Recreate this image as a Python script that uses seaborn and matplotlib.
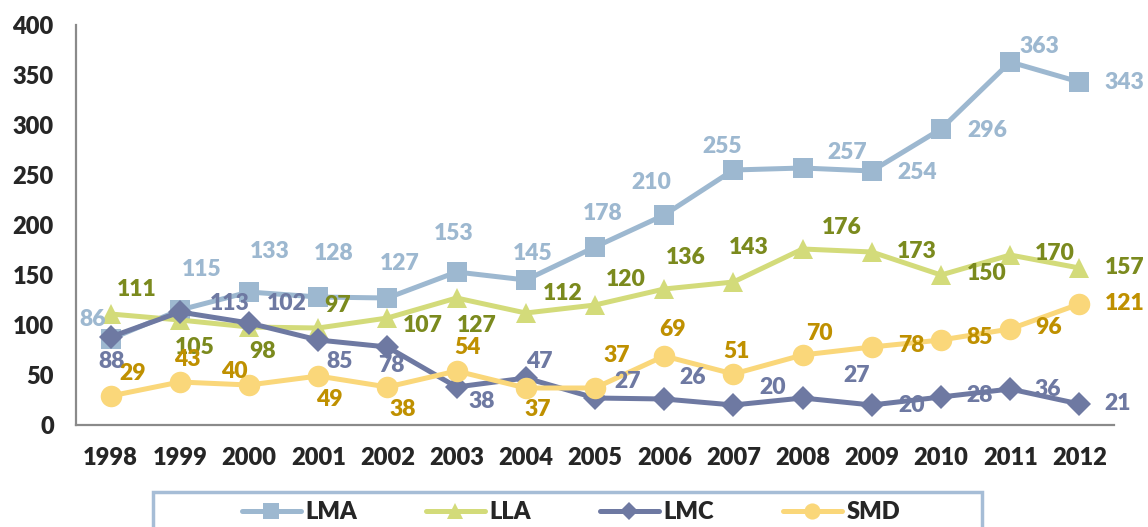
import pandas as pd
import matplotlib.pyplot as plt
import seaborn as sns
from matplotlib.patches import Rectangle

# data
years = [1998, 1999, 2000, 2001, 2002, 2003, 2004, 2005, 2006, 2007, 2008, 2009, 2010, 2011, 2012]
lma = [86, 115, 133, 128, 127, 153, 145, 178, 210, 255, 257, 254, 296, 363, 343]
lla = [111, 105, 98, 97, 107, 127, 112, 120, 136, 143, 176, 173, 150, 170, 157]
lmc = [88, 113, 102, 85, 78, 38, 47, 27, 26, 20, 27, 20, 28, 36, 21]
smd = [29, 43, 40, 49, 38, 54, 37, 37, 69, 51, 70, 78, 85, 96, 121]

# label offsets in pixels (dx, dy), the original has them scattered around
lma_off = [(-18, 20), (22, 40), (21, 40), (16, 44), (12, 35), (-3, 39), (7, 26), (8, 34),
           (-13, 32), (-11, 23), (45, 15), (45, -2), (46, -2), (29, 15), (45, -1)]
lla_off = [(26, 25), (15, -27), (14, -25), (19, 23), (35, -7), (20, -27), (37, 20), (31, 26),
           (22, 31), (15, 34), (39, 21), (45, 1), (46, 1), (45, 1), (45, 1)]
lmc_off = [(1, -24), (50, 8), (38, 20), (21, -21), (4, -19), (25, -14), (13, 16), (33, 16),
           (28, 22), (39, 18), (54, 22), (40, -1), (39, 2), (38, 0), (38, 1)]
smd_off = [(22, 23), (7, 22), (-15, 14), (11, -24), (15, -22), (11, 24), (12, -21), (22, 32),
           (8, 27), (3, 23), (17, 22), (40, 1), (39, 2), (38, 1), (45, 0)]

sns.set_style("white")
plt.rcParams['font.family'] = ['Lato', 'DejaVu Sans']
W = "heavy"

series = [
    ("LMA", lma, lma_off, "s", 14.5, "#9db8d0", "#9db8d0"),
    ("LLA", lla, lla_off, "^", 15, "#d3db7a", "#7b8a1e"),
    ("LMC", lmc, lmc_off, "D", 12, "#6e79a2", "#6e79a2"),
    ("SMD", smd, smd_off, "o", 15.5, "#fad77a", "#bf9000"),
]

fig = plt.figure(figsize=(11.48, 5.27), dpi=100)
ax = fig.add_axes([76 / 1148, 102 / 527, 1038 / 1148, 400 / 527])

pos = list(range(len(years)))
for name, vals, offs, mk, ms, col, tcol in series:
    df = pd.DataFrame({"pos": pos, "value": vals})
    sns.lineplot(data=df, x="pos", y="value", ax=ax, color=col, marker=mk,
                 markersize=ms, markeredgewidth=0, linewidth=3.6, label=name)
    for x, v, (dx, dy) in zip(pos, vals, offs):
        ax.annotate(str(v), (x, v), xytext=(dx, dy), textcoords="offset pixels",
                    ha="center", va="center", fontsize=16.5, fontweight=W,
                    color=tcol, zorder=5)

ax.set_xlim(-0.5, len(years) - 0.5)
ax.set_ylim(0, 400)
ax.set_yticks(range(0, 401, 50))
ax.set_xticks(pos)
ax.set_xticklabels(years)
ax.set_xticks([p - 0.5 for p in pos] + [len(years) - 0.5], minor=True)
ax.set_xlabel("")
ax.set_ylabel("")

for s in ["top", "right"]:
    ax.spines[s].set_visible(False)
for s in ["left", "bottom"]:
    ax.spines[s].set_color("#8a8a8a")
    ax.spines[s].set_linewidth(1.6)

ax.tick_params(axis="y", direction="out", length=6, width=1.4, color="#8a8a8a",
               labelsize=17, pad=10)
ax.tick_params(axis="x", which="major", length=0, labelsize=17, pad=16)
ax.tick_params(axis="x", which="minor", direction="out", length=6, width=1.4, color="#8a8a8a")
for lab in ax.get_xticklabels() + ax.get_yticklabels():
    lab.set_fontweight(W)

# legend with a frame box running off the bottom edge like the original
ax.get_legend().remove()
handles, labels = ax.get_legend_handles_labels()
fig.legend(handles, labels, loc="center", bbox_to_anchor=(571 / 1148, 1 - 512 / 527),
           ncol=4, frameon=False, markerscale=0.75, handlelength=2.5,
           handletextpad=0.2, columnspacing=2.9, prop={"weight": W, "size": 17})
fig.patches.append(Rectangle((153 / 1148, -0.05), 829 / 1148, (527 - 492) / 527 + 0.05,
                             transform=fig.transFigure, fill=False,
                             edgecolor="#a6bdd6", linewidth=2.5))

plt.savefig("out.png", dpi=100)
